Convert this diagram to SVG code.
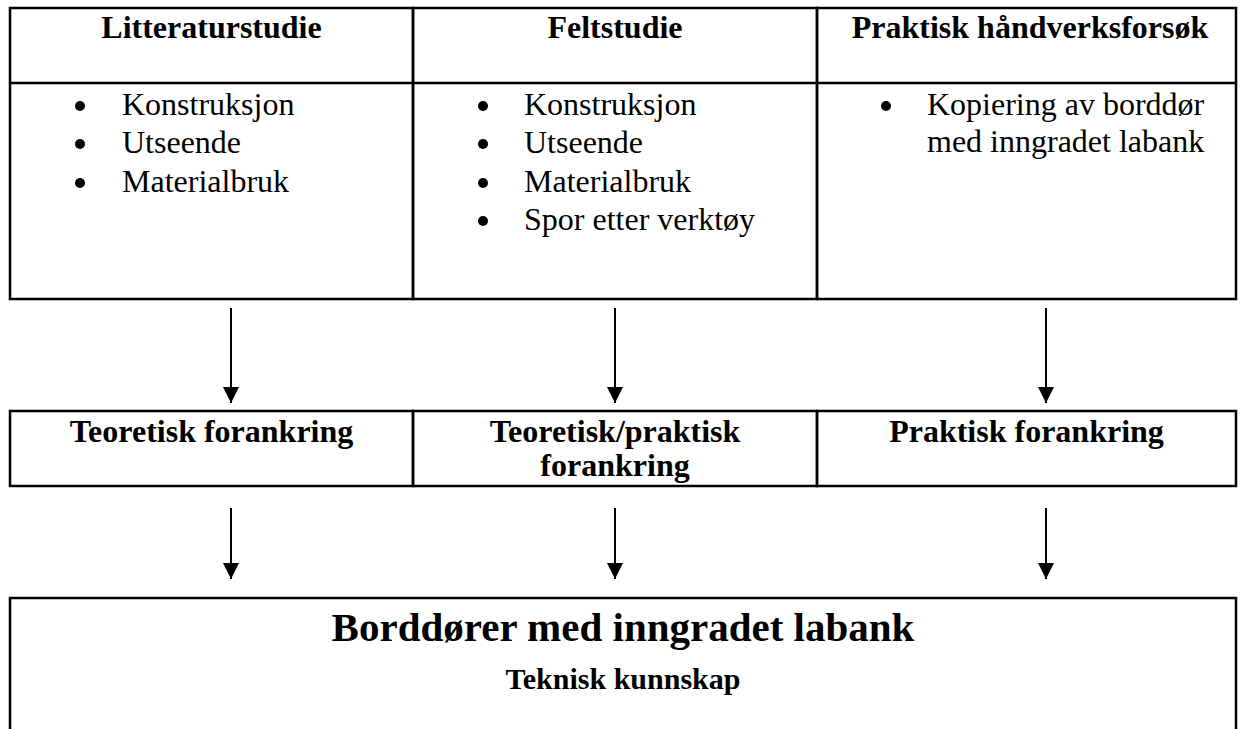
<svg xmlns="http://www.w3.org/2000/svg" width="1246" height="729" viewBox="0 0 1246 729">
<style>
.b{fill:none;stroke:#000;stroke-width:2.5}
.h{font-family:"Liberation Serif","Times New Roman",serif;font-weight:bold;font-size:32px;fill:#000;text-anchor:middle}
.t{font-family:"Liberation Serif","Times New Roman",serif;font-size:32px;fill:#000}
.c{stroke:#000;stroke-width:2}
</style>
<defs>
<marker id="ah" markerWidth="16" markerHeight="16" viewBox="0 0 16 16" refX="16" refY="8" orient="auto" markerUnits="userSpaceOnUse">
<path d="M0,0 L16,8 L0,16 Z" fill="#000"/>
</marker>
</defs>
<rect width="1246" height="729" fill="#fff"/>
<g id="col1">
<rect class="b" x="10" y="8" width="403" height="291"/>
<line class="b" x1="10" y1="83" x2="413" y2="83"/>
<text class="h" x="211.5" y="38">Litteraturstudie</text>
<circle cx="80" cy="106" r="5"/><text class="t" x="122" y="115">Konstruksjon</text>
<circle cx="80" cy="144" r="5"/><text class="t" x="122" y="153">Utseende</text>
<circle cx="80" cy="183" r="5"/><text class="t" x="122" y="192">Materialbruk</text>
</g>
<g id="col2">
<rect class="b" x="413" y="8" width="404" height="291"/>
<line class="b" x1="413" y1="83" x2="817" y2="83"/>
<text class="h" x="615" y="38">Feltstudie</text>
<circle cx="483" cy="106" r="5"/><text class="t" x="524" y="115">Konstruksjon</text>
<circle cx="483" cy="144" r="5"/><text class="t" x="524" y="153">Utseende</text>
<circle cx="483" cy="183" r="5"/><text class="t" x="524" y="192">Materialbruk</text>
<circle cx="483" cy="221" r="5"/><text class="t" x="524" y="230">Spor etter verktøy</text>
</g>
<g id="col3">
<rect class="b" x="817" y="8" width="419" height="291"/>
<line class="b" x1="817" y1="83" x2="1236" y2="83"/>
<text class="h" x="1030" y="38">Praktisk håndverksforsøk</text>
<circle cx="886" cy="106" r="5"/><text class="t" x="927" y="115">Kopiering av borddør</text>
<text class="t" x="927" y="152">med inngradet labank</text>
</g>
<g id="mid1">
<rect class="b" x="10" y="411" width="403" height="75"/>
<text class="h" x="211.5" y="442">Teoretisk forankring</text>
</g>
<g id="mid2">
<rect class="b" x="413" y="411" width="404" height="75"/>
<text class="h" x="615" y="442">Teoretisk/praktisk</text>
<text class="h" x="615" y="476">forankring</text>
</g>
<g id="mid3">
<rect class="b" x="817" y="411" width="419" height="75"/>
<text class="h" x="1026.5" y="442">Praktisk forankring</text>
</g>
<g id="result">
<path class="b" d="M10,731 L10,598 L1236,598 L1236,731"/>
<text class="h" x="623" y="641" style="font-size:41px">Borddører med inngradet labank</text>
<text class="h" x="623" y="689" style="font-size:30px">Teknisk kunnskap</text>
</g>
<g id="connectors">
<line class="c" x1="231" y1="308" x2="231" y2="403" marker-end="url(#ah)"/>
<line class="c" x1="615" y1="308" x2="615" y2="403" marker-end="url(#ah)"/>
<line class="c" x1="1046" y1="308" x2="1046" y2="403" marker-end="url(#ah)"/>
<line class="c" x1="231" y1="508" x2="231" y2="579" marker-end="url(#ah)"/>
<line class="c" x1="615" y1="508" x2="615" y2="579" marker-end="url(#ah)"/>
<line class="c" x1="1046" y1="508" x2="1046" y2="579" marker-end="url(#ah)"/>
</g>
</svg>
